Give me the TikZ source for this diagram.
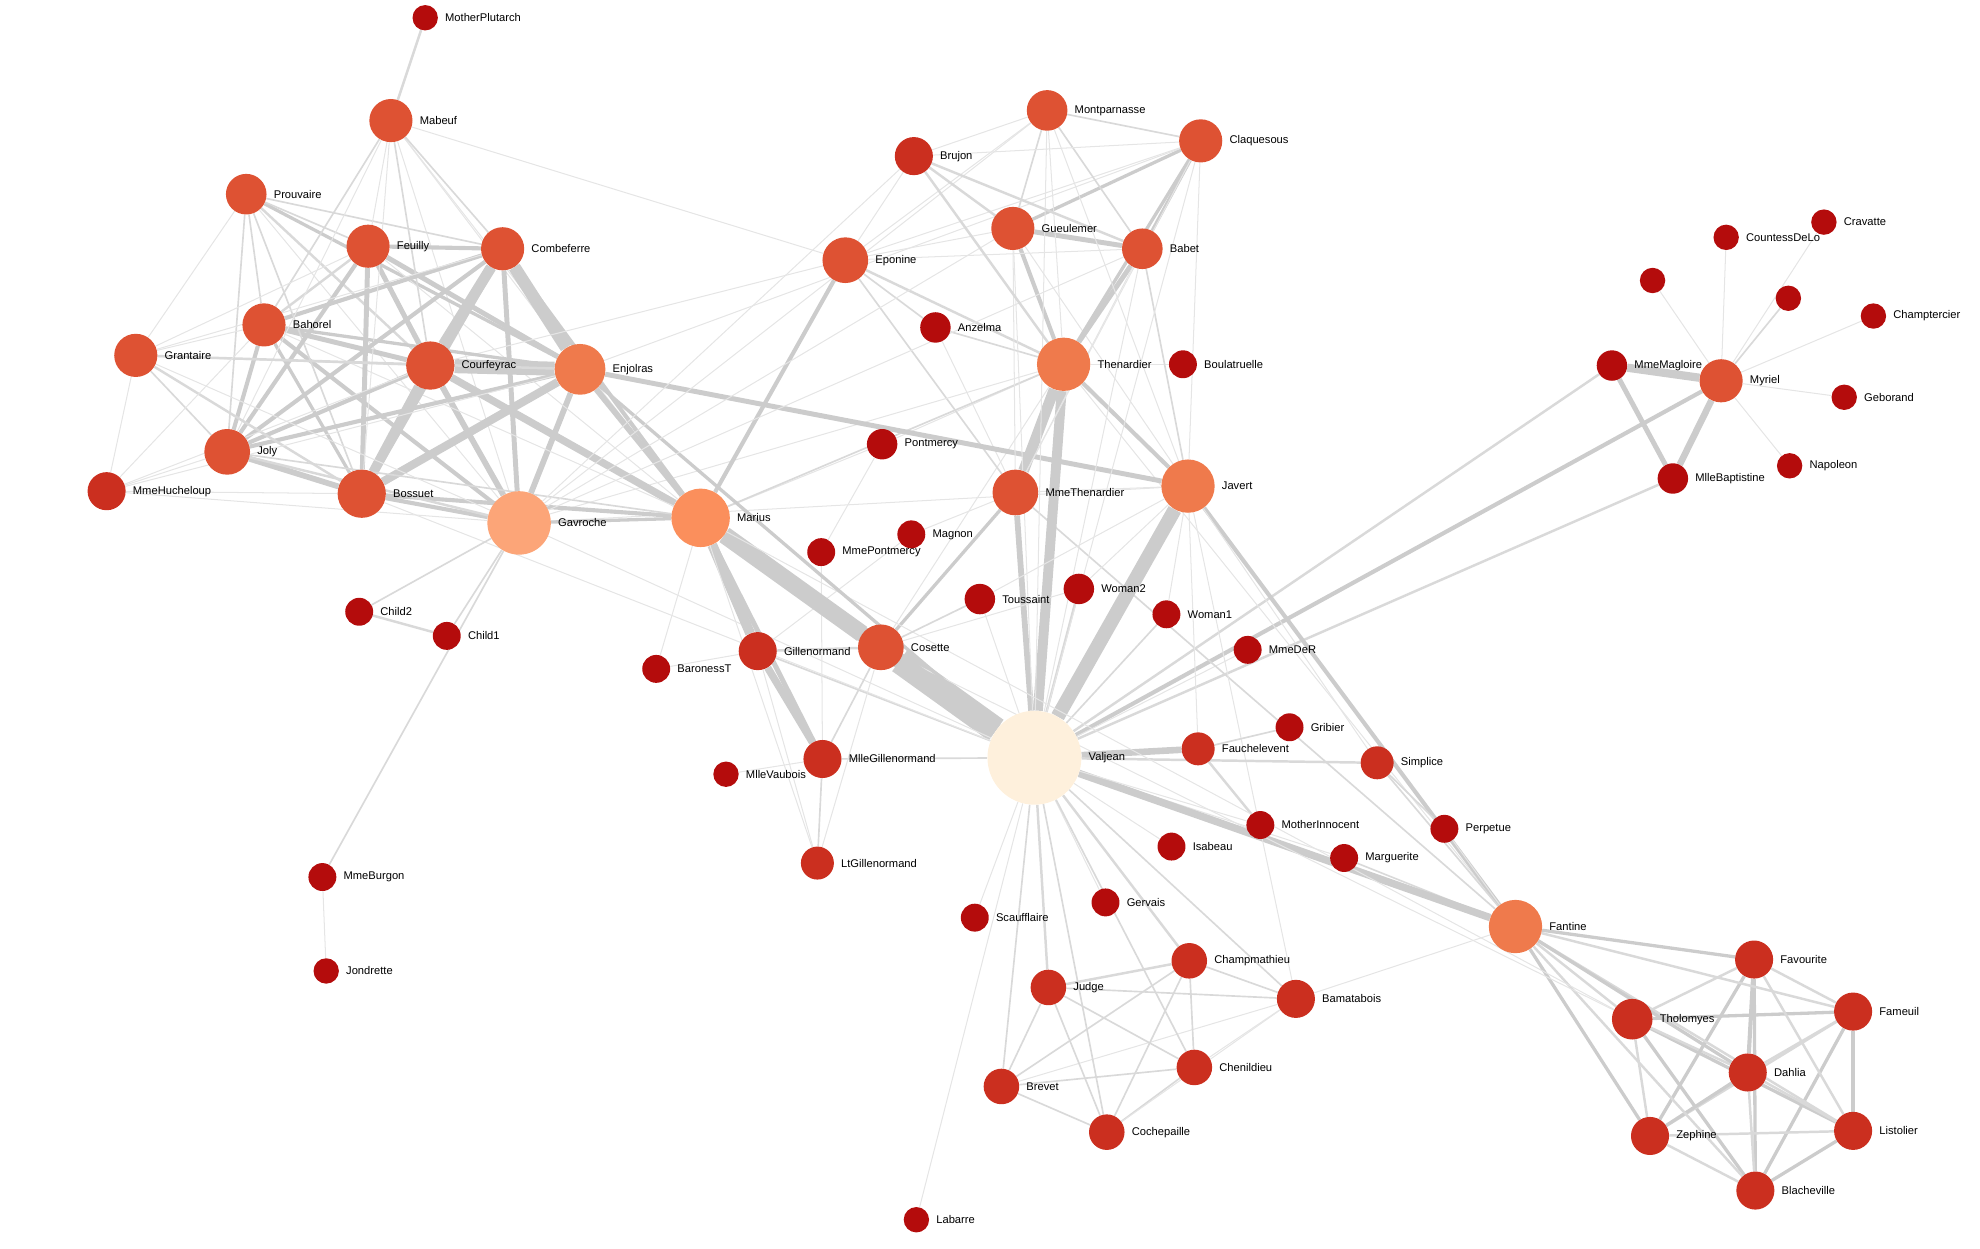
\documentclass[tikz,border=0pt]{standalone}
\usepackage{fontspec}
\setmainfont{Liberation Sans}
\pgfdeclarelayer{bg}\pgfsetlayers{bg,main}
\definecolor{cA}{HTML}{B40C0C}
\definecolor{cB}{HTML}{CB2F1F}
\definecolor{cC}{HTML}{DE5233}
\definecolor{cD}{HTML}{EF7A4C}
\definecolor{cE}{HTML}{FB8F5C}
\definecolor{cF}{HTML}{FCA578}
\definecolor{cG}{HTML}{FEF0DC}
\tikzset{nd/.style={circle,inner sep=0pt,draw=none},
lbl/.style={font=\fontsize{8.8}{10}\selectfont,label distance=2pt,text=black},
edge/.style={draw=black!20},edgem/.style={draw=black!15},edgel/.style={draw=black!10}}
\newcommand\ND[5]{\node[nd,fill=#5,minimum size=#4*2pt-2pt,label={[lbl]right:#1}] (#1) at (#2,#3) {};}
\newcommand\ED[3]{\pgfmathsetmacro\ew{max(0.8,0.65*#3)}\ifnum#3>3 \draw[edge,line width=\ew pt](#1)--(#2);\else\ifnum#3>1 \draw[edgem,line width=\ew pt](#1)--(#2);\else\draw[edgel,line width=\ew pt](#1)--(#2);\fi\fi}
\begin{document}
\begin{tikzpicture}[x=1pt,y=-1pt]
\useasboundingbox (0,0) rectangle (1560,984);
\ND{MotherPlutarch}{335}{14}{11}{cA}
\ND{Mabeuf}{308}{95}{18}{cC}
\ND{Prouvaire}{194}{153}{17}{cC}
\ND{Feuilly}{290}{194}{18}{cC}
\ND{Combeferre}{396}{196}{18}{cC}
\ND{Bahorel}{208}{256}{18}{cC}
\ND{Grantaire}{107}{280}{18}{cC}
\ND{Courfeyrac}{339}{288}{20}{cC}
\ND{Enjolras}{457}{291}{21}{cD}
\ND{Joly}{179}{356}{19}{cC}
\ND{MmeHucheloup}{84}{387}{16}{cB}
\ND{Bossuet}{285}{389}{20}{cC}
\ND{Gavroche}{409}{412}{26}{cF}
\ND{Marius}{552}{408}{24}{cE}
\ND{Child2}{283}{482}{12}{cA}
\ND{Child1}{352}{501}{12}{cA}
\ND{MmeBurgon}{254}{691}{12}{cA}
\ND{Jondrette}{257}{765}{11}{cA}
\ND{Eponine}{666}{205}{19}{cC}
\ND{Brujon}{720}{123}{16}{cB}
\ND{Montparnasse}{825}{87}{17}{cC}
\ND{Claquesous}{946}{111}{18}{cC}
\ND{Gueulemer}{798}{180}{18}{cC}
\ND{Babet}{900}{196}{17}{cC}
\ND{Anzelma}{737}{258}{13}{cA}
\ND{Thenardier}{838}{287}{22}{cD}
\ND{Boulatruelle}{932}{287}{12}{cA}
\ND{Pontmercy}{695}{350}{13}{cA}
\ND{MmeThenardier}{800}{388}{19}{cC}
\ND{Javert}{936}{383}{22}{cD}
\ND{MmePontmercy}{647}{435}{12}{cA}
\ND{Magnon}{718}{421}{12}{cA}
\ND{Toussaint}{772}{472}{13}{cA}
\ND{Woman2}{850}{464}{13}{cA}
\ND{Woman1}{919}{484}{12}{cA}
\ND{MmeDeR}{983}{512}{12}{cA}
\ND{Cosette}{694}{510}{19}{cC}
\ND{Gillenormand}{597}{513}{16}{cB}
\ND{BaronessT}{517}{527}{12}{cA}
\ND{MlleGillenormand}{648}{598}{16}{cB}
\ND{MlleVaubois}{572}{610}{11}{cA}
\ND{LtGillenormand}{644}{680}{14}{cB}
\ND{Valjean}{815}{597}{38}{cG}
\ND{Gribier}{1016}{573}{12}{cA}
\ND{Fauchelevent}{944}{590}{14}{cB}
\ND{Simplice}{1085}{601}{14}{cB}
\ND{MotherInnocent}{993}{650}{12}{cA}
\ND{Isabeau}{923}{667}{12}{cA}
\ND{Perpetue}{1138}{653}{12}{cA}
\ND{Marguerite}{1059}{676}{12}{cA}
\ND{Gervais}{871}{711}{12}{cA}
\ND{Scaufflaire}{768}{723}{12}{cA}
\ND{Fantine}{1194}{730}{22}{cD}
\ND{Champmathieu}{937}{757}{15}{cB}
\ND{Judge}{826}{778}{15}{cB}
\ND{Bamatabois}{1021}{787}{16}{cB}
\ND{Chenildieu}{941}{841}{15}{cB}
\ND{Brevet}{789}{856}{15}{cB}
\ND{Cochepaille}{872}{892}{15}{cB}
\ND{Labarre}{722}{961}{11}{cA}
\ND{Favourite}{1382}{756}{16}{cB}
\ND{Tholomyes}{1286}{803}{17}{cB}
\ND{Fameuil}{1460}{797}{16}{cB}
\ND{Dahlia}{1377}{845}{16}{cB}
\ND{Zephine}{1300}{895}{16}{cB}
\ND{Listolier}{1460}{891}{16}{cB}
\ND{Blacheville}{1383}{938}{16}{cB}
\ND{Myriel}{1356}{300}{18}{cC}
\ND{MmeMagloire}{1270}{288}{13}{cA}
\ND{MlleBaptistine}{1318}{377}{13}{cA}
\ND{Cravatte}{1437}{175}{11}{cA}
\ND{CountessDeLo}{1360}{187}{11}{cA}
\ND{Champtercier}{1476}{249}{11}{cA}
\ND{Geborand}{1453}{313}{11}{cA}
\ND{Napoleon}{1410}{367}{11}{cA}
\node[nd,fill=cA,minimum size=20pt] (Count) at (1409,235) {};
\node[nd,fill=cA,minimum size=20pt] (OldMan) at (1302,221) {};
\begin{pgfonlayer}{bg}
\ED{Napoleon}{Myriel}{1}\ED{MlleBaptistine}{Myriel}{8}\ED{MmeMagloire}{Myriel}{10}\ED{MmeMagloire}{MlleBaptistine}{6}
\ED{CountessDeLo}{Myriel}{1}\ED{Geborand}{Myriel}{1}\ED{Champtercier}{Myriel}{1}\ED{Cravatte}{Myriel}{1}\ED{Count}{Myriel}{2}\ED{OldMan}{Myriel}{1}
\ED{Valjean}{Labarre}{1}\ED{Valjean}{MmeMagloire}{3}\ED{Valjean}{MlleBaptistine}{3}\ED{Valjean}{Myriel}{5}\ED{Marguerite}{Valjean}{1}\ED{MmeDeR}{Valjean}{1}\ED{Isabeau}{Valjean}{1}\ED{Gervais}{Valjean}{1}
\ED{Listolier}{Tholomyes}{4}\ED{Fameuil}{Tholomyes}{4}\ED{Fameuil}{Listolier}{4}\ED{Blacheville}{Tholomyes}{4}\ED{Blacheville}{Listolier}{4}\ED{Blacheville}{Fameuil}{4}
\ED{Favourite}{Tholomyes}{3}\ED{Favourite}{Listolier}{3}\ED{Favourite}{Fameuil}{3}\ED{Favourite}{Blacheville}{4}\ED{Dahlia}{Listolier}{3}\ED{Dahlia}{Fameuil}{3}\ED{Dahlia}{Blacheville}{3}\ED{Dahlia}{Favourite}{5}\ED{Dahlia}{Tholomyes}{3}
\ED{Zephine}{Listolier}{3}\ED{Zephine}{Fameuil}{3}\ED{Zephine}{Blacheville}{3}\ED{Zephine}{Favourite}{4}\ED{Zephine}{Dahlia}{4}\ED{Zephine}{Tholomyes}{3}
\ED{Fantine}{Tholomyes}{3}\ED{Fantine}{Listolier}{3}\ED{Fantine}{Fameuil}{3}\ED{Fantine}{Blacheville}{3}\ED{Fantine}{Favourite}{4}\ED{Fantine}{Dahlia}{4}\ED{Fantine}{Zephine}{4}\ED{Fantine}{Marguerite}{2}\ED{Fantine}{Valjean}{9}
\ED{MmeThenardier}{Fantine}{2}\ED{MmeThenardier}{Valjean}{7}\ED{Thenardier}{MmeThenardier}{13}\ED{Thenardier}{Fantine}{1}\ED{Thenardier}{Valjean}{12}
\ED{Cosette}{MmeThenardier}{4}\ED{Cosette}{Valjean}{31}\ED{Cosette}{Tholomyes}{1}\ED{Cosette}{Thenardier}{1}
\ED{Javert}{Valjean}{17}\ED{Javert}{Fantine}{5}\ED{Javert}{Thenardier}{5}\ED{Javert}{MmeThenardier}{1}\ED{Fauchelevent}{Valjean}{8}\ED{Fauchelevent}{Javert}{1}
\ED{Bamatabois}{Fantine}{1}\ED{Bamatabois}{Javert}{1}\ED{Bamatabois}{Valjean}{2}\ED{Perpetue}{Fantine}{1}\ED{Simplice}{Perpetue}{2}\ED{Simplice}{Valjean}{3}\ED{Simplice}{Fantine}{2}\ED{Simplice}{Javert}{1}
\ED{Scaufflaire}{Valjean}{1}\ED{Woman1}{Valjean}{2}\ED{Woman1}{Javert}{1}\ED{Judge}{Valjean}{3}\ED{Judge}{Bamatabois}{2}\ED{Champmathieu}{Valjean}{3}\ED{Champmathieu}{Judge}{3}\ED{Champmathieu}{Bamatabois}{2}
\ED{Brevet}{Judge}{2}\ED{Brevet}{Champmathieu}{2}\ED{Brevet}{Valjean}{2}\ED{Brevet}{Bamatabois}{1}\ED{Chenildieu}{Judge}{2}\ED{Chenildieu}{Champmathieu}{2}\ED{Chenildieu}{Brevet}{2}\ED{Chenildieu}{Valjean}{2}\ED{Chenildieu}{Bamatabois}{1}
\ED{Cochepaille}{Judge}{2}\ED{Cochepaille}{Champmathieu}{2}\ED{Cochepaille}{Brevet}{2}\ED{Cochepaille}{Chenildieu}{2}\ED{Cochepaille}{Valjean}{2}\ED{Cochepaille}{Bamatabois}{1}
\ED{Pontmercy}{Thenardier}{1}\ED{Boulatruelle}{Thenardier}{1}\ED{Eponine}{MmeThenardier}{2}\ED{Eponine}{Thenardier}{3}\ED{Anzelma}{Eponine}{2}\ED{Anzelma}{Thenardier}{2}\ED{Anzelma}{MmeThenardier}{1}
\ED{Woman2}{Valjean}{3}\ED{Woman2}{Cosette}{1}\ED{Woman2}{Javert}{1}\ED{MotherInnocent}{Fauchelevent}{3}\ED{MotherInnocent}{Valjean}{1}\ED{Gribier}{Fauchelevent}{2}
\ED{MmeBurgon}{Jondrette}{1}\ED{Gavroche}{MmeBurgon}{2}\ED{Gavroche}{Thenardier}{1}\ED{Gavroche}{Javert}{1}\ED{Gavroche}{Valjean}{1}
\ED{Gillenormand}{Cosette}{3}\ED{Gillenormand}{Valjean}{2}\ED{Magnon}{Gillenormand}{1}\ED{Magnon}{MmeThenardier}{1}\ED{MlleGillenormand}{Gillenormand}{9}\ED{MlleGillenormand}{Cosette}{2}\ED{MlleGillenormand}{Valjean}{2}
\ED{MmePontmercy}{MlleGillenormand}{1}\ED{MmePontmercy}{Pontmercy}{1}\ED{MlleVaubois}{MlleGillenormand}{1}\ED{LtGillenormand}{MlleGillenormand}{2}\ED{LtGillenormand}{Gillenormand}{1}\ED{LtGillenormand}{Cosette}{1}
\ED{Marius}{MlleGillenormand}{6}\ED{Marius}{Gillenormand}{12}\ED{Marius}{Pontmercy}{1}\ED{Marius}{LtGillenormand}{1}\ED{Marius}{BaronessT}{1}\ED{Marius}{Valjean}{19}\ED{Marius}{Cosette}{21}\ED{Marius}{Tholomyes}{1}\ED{Marius}{Thenardier}{2}\ED{Marius}{Eponine}{5}\ED{Marius}{Gavroche}{4}
\ED{BaronessT}{Gillenormand}{1}\ED{Mabeuf}{Marius}{1}\ED{Mabeuf}{Eponine}{1}\ED{Mabeuf}{Gavroche}{1}
\ED{Enjolras}{Marius}{7}\ED{Enjolras}{Gavroche}{7}\ED{Enjolras}{Javert}{6}\ED{Enjolras}{Mabeuf}{1}\ED{Enjolras}{Valjean}{4}
\ED{Combeferre}{Enjolras}{15}\ED{Combeferre}{Marius}{5}\ED{Combeferre}{Gavroche}{6}\ED{Combeferre}{Mabeuf}{2}
\ED{Prouvaire}{Gavroche}{1}\ED{Prouvaire}{Enjolras}{4}\ED{Prouvaire}{Combeferre}{2}
\ED{Feuilly}{Gavroche}{2}\ED{Feuilly}{Enjolras}{6}\ED{Feuilly}{Prouvaire}{2}\ED{Feuilly}{Combeferre}{5}\ED{Feuilly}{Mabeuf}{1}\ED{Feuilly}{Marius}{1}
\ED{Courfeyrac}{Marius}{9}\ED{Courfeyrac}{Enjolras}{17}\ED{Courfeyrac}{Combeferre}{13}\ED{Courfeyrac}{Gavroche}{7}\ED{Courfeyrac}{Mabeuf}{2}\ED{Courfeyrac}{Eponine}{1}\ED{Courfeyrac}{Feuilly}{6}\ED{Courfeyrac}{Prouvaire}{3}
\ED{Bahorel}{Combeferre}{5}\ED{Bahorel}{Gavroche}{5}\ED{Bahorel}{Courfeyrac}{6}\ED{Bahorel}{Mabeuf}{2}\ED{Bahorel}{Enjolras}{4}\ED{Bahorel}{Feuilly}{3}\ED{Bahorel}{Prouvaire}{2}\ED{Bahorel}{Marius}{1}
\ED{Bossuet}{Marius}{5}\ED{Bossuet}{Courfeyrac}{12}\ED{Bossuet}{Gavroche}{5}\ED{Bossuet}{Bahorel}{4}\ED{Bossuet}{Enjolras}{10}\ED{Bossuet}{Feuilly}{6}\ED{Bossuet}{Prouvaire}{2}\ED{Bossuet}{Combeferre}{9}\ED{Bossuet}{Mabeuf}{1}\ED{Bossuet}{Valjean}{1}
\ED{Joly}{Bahorel}{5}\ED{Joly}{Bossuet}{7}\ED{Joly}{Gavroche}{3}\ED{Joly}{Courfeyrac}{5}\ED{Joly}{Enjolras}{5}\ED{Joly}{Feuilly}{5}\ED{Joly}{Prouvaire}{2}\ED{Joly}{Combeferre}{5}\ED{Joly}{Mabeuf}{1}\ED{Joly}{Marius}{2}
\ED{Grantaire}{Bossuet}{3}\ED{Grantaire}{Enjolras}{3}\ED{Grantaire}{Combeferre}{1}\ED{Grantaire}{Courfeyrac}{2}\ED{Grantaire}{Joly}{2}\ED{Grantaire}{Gavroche}{1}\ED{Grantaire}{Bahorel}{1}\ED{Grantaire}{Feuilly}{1}\ED{Grantaire}{Prouvaire}{1}
\ED{MotherPlutarch}{Mabeuf}{3}
\ED{Gueulemer}{Thenardier}{5}\ED{Gueulemer}{Valjean}{1}\ED{Gueulemer}{MmeThenardier}{1}\ED{Gueulemer}{Javert}{1}\ED{Gueulemer}{Gavroche}{1}\ED{Gueulemer}{Eponine}{1}
\ED{Babet}{Thenardier}{6}\ED{Babet}{Gueulemer}{6}\ED{Babet}{Valjean}{1}\ED{Babet}{MmeThenardier}{1}\ED{Babet}{Javert}{2}\ED{Babet}{Gavroche}{1}\ED{Babet}{Eponine}{1}
\ED{Claquesous}{Thenardier}{4}\ED{Claquesous}{Babet}{4}\ED{Claquesous}{Gueulemer}{4}\ED{Claquesous}{Valjean}{1}\ED{Claquesous}{MmeThenardier}{1}\ED{Claquesous}{Javert}{1}\ED{Claquesous}{Eponine}{1}\ED{Claquesous}{Enjolras}{1}
\ED{Montparnasse}{Javert}{1}\ED{Montparnasse}{Babet}{2}\ED{Montparnasse}{Gueulemer}{2}\ED{Montparnasse}{Claquesous}{2}\ED{Montparnasse}{Valjean}{1}\ED{Montparnasse}{Gavroche}{1}\ED{Montparnasse}{Eponine}{1}\ED{Montparnasse}{Thenardier}{1}
\ED{Toussaint}{Cosette}{2}\ED{Toussaint}{Javert}{1}\ED{Toussaint}{Valjean}{1}\ED{Child1}{Gavroche}{2}\ED{Child2}{Gavroche}{2}\ED{Child2}{Child1}{3}
\ED{Brujon}{Babet}{3}\ED{Brujon}{Gueulemer}{3}\ED{Brujon}{Thenardier}{3}\ED{Brujon}{Gavroche}{1}\ED{Brujon}{Eponine}{1}\ED{Brujon}{Claquesous}{1}\ED{Brujon}{Montparnasse}{1}
\ED{MmeHucheloup}{Bossuet}{1}\ED{MmeHucheloup}{Joly}{1}\ED{MmeHucheloup}{Grantaire}{1}\ED{MmeHucheloup}{Bahorel}{1}\ED{MmeHucheloup}{Courfeyrac}{1}\ED{MmeHucheloup}{Gavroche}{1}\ED{MmeHucheloup}{Enjolras}{1}
\end{pgfonlayer}
\end{tikzpicture}
\end{document}
